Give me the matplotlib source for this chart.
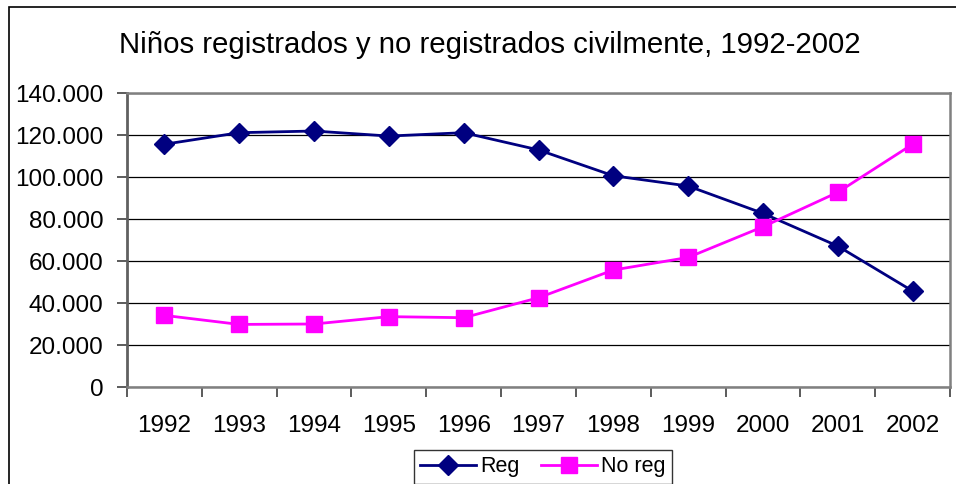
import matplotlib
matplotlib.use('Agg')
import matplotlib.pyplot as plt
from matplotlib.patches import Rectangle
from matplotlib.ticker import FuncFormatter

plt.rcParams['font.family'] = ['Liberation Sans', 'DejaVu Sans']

# Data
years = ['1992', '1993', '1994', '1995', '1996', '1997', '1998', '1999', '2000', '2001', '2002']
reg = [115600, 121100, 121900, 119500, 121100, 112900, 100600, 95700, 82700, 67100, 45700]
no_reg = [34100, 29800, 30000, 33500, 33000, 42500, 55700, 61700, 76300, 92700, 115600]

fig = plt.figure(figsize=(9.56, 4.84), dpi=100)
ax = fig.add_axes([127 / 956, 1 - 387 / 484, (950 - 127) / 956, (387 - 93) / 484])

x = list(range(len(years)))
ax.plot(x, reg, color='#000080', lw=2.0, marker='D', markersize=10, label='Reg', zorder=3)
ax.plot(x, no_reg, color='#FF00FF', lw=2.0, marker='s', markersize=11, label='No reg', zorder=3)

ax.set_xlim(-0.5, len(years) - 0.5)
ax.set_ylim(0, 140000)
ax.set_yticks(range(0, 140001, 20000))
ax.yaxis.set_major_formatter(FuncFormatter(lambda v, p: f'{int(v):,}'.replace(',', '.')))

# category ticks between the categories, labels at the centres
ax.set_xticks([i - 0.5 for i in range(len(years) + 1)])
ax.set_xticklabels([])
ax.set_xticks(x, minor=True)
ax.set_xticklabels(years, minor=True)
ax.tick_params(axis='x', which='major', length=7, width=1.2, color='#404040', direction='out')
ax.tick_params(axis='x', which='minor', length=0, pad=20, labelsize=17.5)
ax.tick_params(axis='y', length=7, width=1.2, color='#404040', pad=10, labelsize=17.5)

ax.yaxis.grid(True, color='black', lw=0.9)
ax.set_axisbelow(True)
for side in ['top', 'right', 'bottom']:
    ax.spines[side].set_color('#808080')
    ax.spines[side].set_linewidth(1.8)
ax.spines['left'].set_color('#606060')
ax.spines['left'].set_linewidth(2)

fig.text(490 / 956, 1 - 45 / 484, 'Niños registrados y no registrados civilmente, 1992-2002',
         ha='center', va='center', fontsize=21.2)

leg = fig.legend(loc='upper center', bbox_to_anchor=(543 / 956, 1 - 450 / 484), ncol=2,
                 fontsize=15.5, frameon=True, fancybox=False, edgecolor='black',
                 handlelength=2.6, handletextpad=0.2, columnspacing=1.0, borderpad=0.3,
                 borderaxespad=0)
leg.get_frame().set_linewidth(1.0)

# outer chart border (runs off the right and bottom edges)
fig.patches.append(Rectangle((9 / 956, -0.1), 1.0, 1 - 7 / 484 + 0.1, transform=fig.transFigure,
                             fill=False, edgecolor='black', lw=1.2))

fig.savefig('out.png', dpi=100)
